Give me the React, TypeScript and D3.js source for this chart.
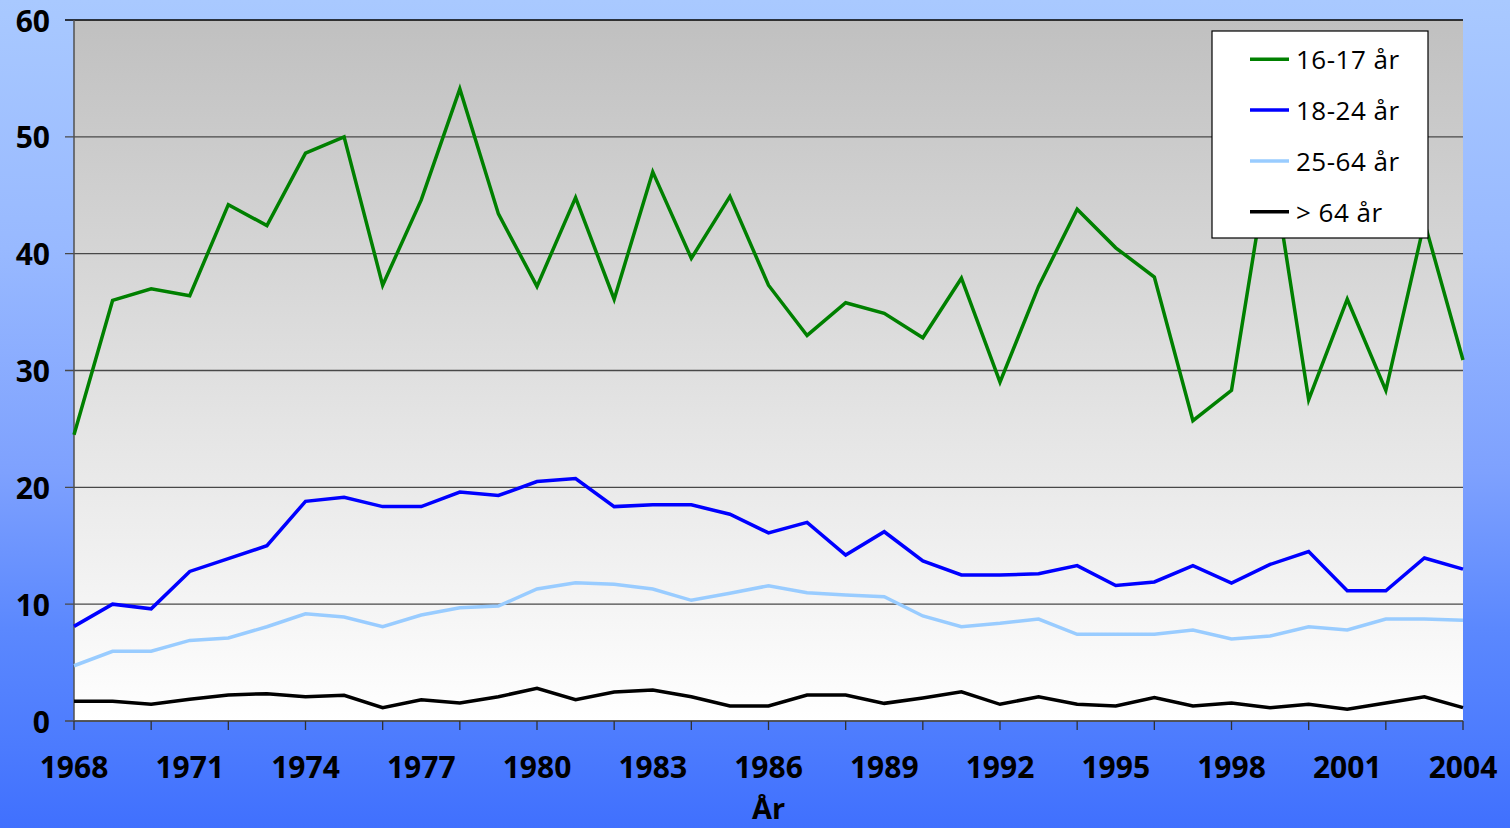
import React from "react";
import * as d3 from "d3";

const years: number[] = d3.range(1968, 2005);
const ages1617: number[] = [24.5, 36.0, 37.0, 36.4, 44.2, 42.4, 48.6, 50.0, 37.3, 44.6, 54.1, 43.4, 37.2, 44.8, 36.1, 47.0, 39.6, 44.9, 37.3, 33.0, 35.8, 34.9, 32.8, 37.9, 29.0, 37.2, 43.8, 40.5, 38.0, 25.7, 28.3, 48.7, 27.5, 36.1, 28.3, 42.7, 30.9];
const ages1824: number[] = [8.1, 10.0, 9.6, 12.8, 13.9, 15.0, 18.8, 19.15, 18.35, 18.35, 19.6, 19.3, 20.5, 20.75, 18.35, 18.5, 18.5, 17.7, 16.1, 17.0, 14.2, 16.2, 13.7, 12.5, 12.5, 12.6, 13.3, 11.6, 11.9, 13.3, 11.8, 13.4, 14.5, 11.15, 11.15, 13.95, 13.0];
const ages2564: number[] = [4.73, 5.97, 5.97, 6.9, 7.1, 8.07, 9.18, 8.9, 8.07, 9.07, 9.7, 9.84, 11.3, 11.84, 11.7, 11.3, 10.33, 10.93, 11.58, 10.98, 10.78, 10.64, 8.99, 8.07, 8.36, 8.73, 7.42, 7.42, 7.42, 7.79, 7.02, 7.28, 8.07, 7.79, 8.73, 8.73, 8.62];
const ages64: number[] = [1.68, 1.68, 1.43, 1.86, 2.23, 2.34, 2.08, 2.2, 1.14, 1.82, 1.54, 2.08, 2.8, 1.82, 2.48, 2.65, 2.08, 1.28, 1.28, 2.23, 2.23, 1.51, 1.97, 2.5, 1.43, 2.08, 1.43, 1.28, 2.0, 1.28, 1.54, 1.14, 1.43, 1.0, 1.54, 2.08, 1.14];

const seriesNames: string[] = ["16-17 år", "18-24 år", "25-64 år", "> 64 år"];
const seriesColors: string[] = ["#008000", "#0000ff", "#99ccff", "#000000"];
const seriesValues: number[][] = [ages1617, ages1824, ages2564, ages64];

const yTicks: number[] = [0, 10, 20, 30, 40, 50, 60];
const xMinorTicks: number[] = d3.range(1968, 2005, 2);
const xLabels: number[] = d3.range(1968, 2005, 3);
const xTitle = "År";

const W = 1510;
const H = 828;
const left = 74;
const right = 1463;
const top = 20;
const bottom = 721;

export default function App() {
  const x = d3.scaleLinear().domain([1968, 2004]).range([left, right]);
  const y = d3.scaleLinear().domain([0, 60]).range([bottom, top]);
  const line = d3
    .line<number>()
    .x((_, i) => x(years[i]))
    .y((d) => y(d));

  const font = "'Open Sans', 'Liberation Sans', sans-serif";

  const legX = 1212;
  const legY = 31;
  const legW = 216;
  const legH = 207;

  return (
    <div style={{ position: "absolute", left: 0, top: 0 }}>
      <svg width={W} height={H} style={{ display: "block" }}>
        <defs>
          <linearGradient id="bg" x1="0" y1="0" x2="0" y2="1">
            <stop offset="0" stopColor="#a9c9ff" />
            <stop offset="0.3" stopColor="#98b9ff" />
            <stop offset="0.57" stopColor="#7ea1fe" />
            <stop offset="0.76" stopColor="#5b88fe" />
            <stop offset="0.9" stopColor="#4c7bfe" />
            <stop offset="1" stopColor="#4070fe" />
          </linearGradient>
          <linearGradient id="plot" x1="0" y1="0" x2="0" y2="1">
            <stop offset="0" stopColor="#c0c0c0" />
            <stop offset="1" stopColor="#ffffff" />
          </linearGradient>
        </defs>
        <rect x={0} y={0} width={W} height={H} fill="url(#bg)" />
        <rect x={left} y={top} width={right - left} height={bottom - top} fill="url(#plot)" />

        {yTicks.map((t) => (
          <g key={"y" + t}>
            <line
              x1={65}
              x2={right}
              y1={y(t)}
              y2={y(t)}
              stroke={t === 60 ? "#000000" : "#484848"}
              strokeWidth={1.4}
            />
            <text
              x={50}
              y={y(t)}
              textAnchor="end"
              dominantBaseline="central"
              fontFamily={font}
              fontWeight={700}
              fontSize={30}
              fill="#000"
            >
              {t}
            </text>
          </g>
        ))}

        <line x1={left} x2={left} y1={top} y2={bottom} stroke="#505050" strokeWidth={1.5} />
        <line x1={left} x2={right} y1={bottom} y2={bottom} stroke="#505050" strokeWidth={1.5} />

        {xMinorTicks.map((t) => (
          <line key={"xt" + t} x1={x(t)} x2={x(t)} y1={bottom} y2={730} stroke="#303030" strokeWidth={1.3} />
        ))}
        {xLabels.map((t) => (
          <text
            key={"xl" + t}
            x={x(t)}
            y={766}
            textAnchor="middle"
            dominantBaseline="central"
            fontFamily={font}
            fontWeight={700}
            fontSize={30}
            fill="#000"
          >
            {t}
          </text>
        ))}
        <text x={(left + right) / 2} y={819} textAnchor="middle" fontFamily={font} fontWeight={700} fontSize={29} fill="#000">
          {xTitle}
        </text>

        {seriesValues.map((vals, i) => (
          <path
            key={"s" + i}
            d={line(vals) || ""}
            fill="none"
            stroke={seriesColors[i]}
            strokeWidth={3.5}
            strokeLinejoin="miter"
          />
        ))}

        <rect x={legX} y={legY} width={legW} height={legH} fill="#ffffff" stroke="#000" strokeWidth={1.2} />
        {seriesNames.map((n, i) => {
          const cy = 59.3 + i * 50.8;
          return (
            <g key={"lg" + i}>
              <line x1={1250} x2={1289} y1={cy} y2={cy} stroke={seriesColors[i]} strokeWidth={3.5} />
              <text x={1296} y={cy} dominantBaseline="central" fontFamily={font} fontSize={26} letterSpacing={0.5} fill="#000">
                {n}
              </text>
            </g>
          );
        })}
      </svg>
    </div>
  );
}
